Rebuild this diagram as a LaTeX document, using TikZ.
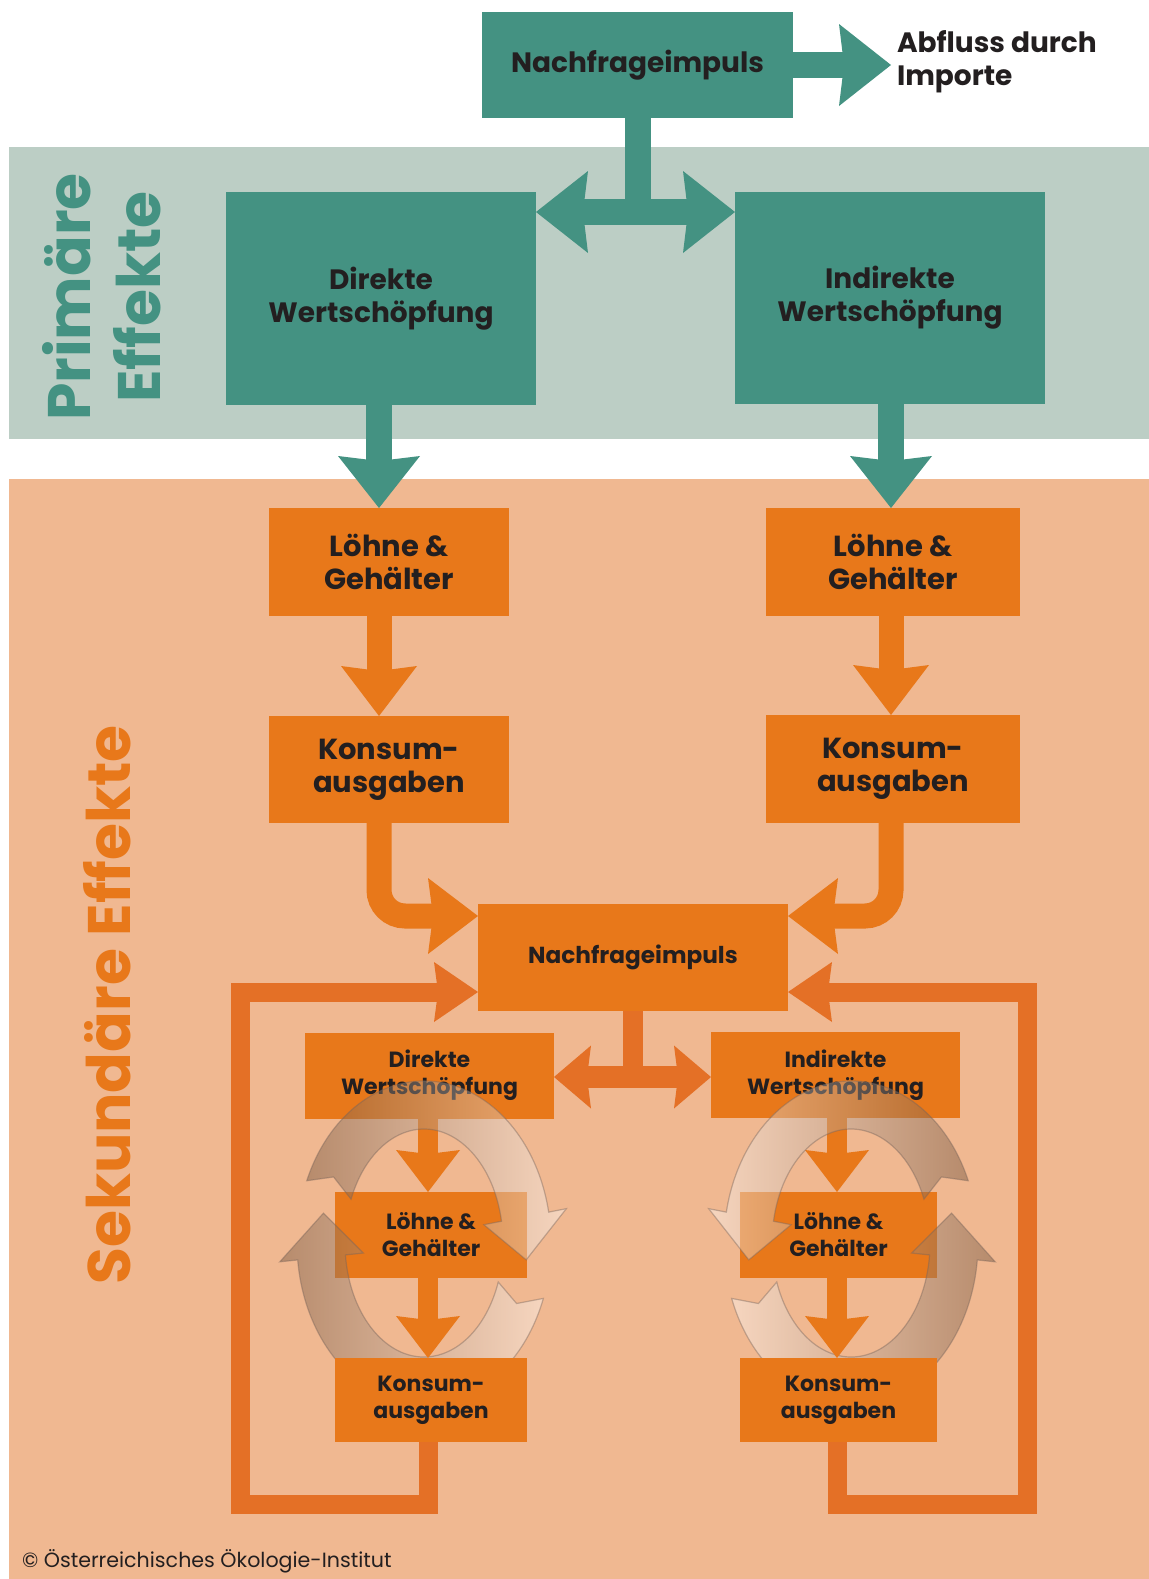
\documentclass[tikz,border=0pt]{standalone}
\usepackage{fontspec}
\setmainfont{Poppins}
\usetikzlibrary{arrows.meta,calc}
\definecolor{tealM}{RGB}{68,146,130}
\definecolor{bandG}{RGB}{188,206,197}
\definecolor{orM}{RGB}{232,120,26}
\definecolor{orD}{RGB}{228,112,38}
\definecolor{peach}{RGB}{240,184,145}
\definecolor{txt}{RGB}{35,31,32}
\definecolor{cycD}{RGB}{105,78,58}
\definecolor{cycO}{RGB}{120,100,90}
\newcommand\cycarr[6]{%
  \path[#6] ($(#1)+(#2:127 and 162)$) arc[start angle=#2, end angle=#3, x radius=127, y radius=162]
    -- ($(#1)+(#3:145 and 180)$) -- ($(#1)+(#4:103 and 138)$) -- ($(#1)+(#3:61 and 96)$)
    -- ($(#1)+(#3:79 and 114)$) arc[start angle=#3, end angle=#2, x radius=79, y radius=114]
    -- ($(#1)+(#5:103 and 138)$) -- cycle;}
\begin{document}
\begin{tikzpicture}[x=0.5pt,y=-0.5pt,
  every node/.style={inner sep=0pt, outer sep=0pt},
  tbox/.style={fill=tealM, text=txt, align=center, font=\bfseries\fontsize{14}{16.5}\selectfont},
  obox/.style={fill=orM, text=txt, align=center, font=\bfseries\fontsize{14.5}{16.5}\selectfont},
  sbox/.style={fill=orM, text=txt, align=center, font=\bfseries\fontsize{11}{13.5}\selectfont},
  tarr/.style={draw=tealM, line width=13pt, -{Stealth[length=26pt,width=41pt,inset=2.5pt,line width=0pt]}},
  tline/.style={draw=tealM, line width=13pt},
  oarr/.style={draw=orM, line width=12.5pt, -{Stealth[length=25pt,width=38pt,inset=2.5pt,line width=0pt]}},
  larr/.style={draw=orD, line width=9.5pt, -{Stealth[length=22pt,width=30pt,inset=2pt,line width=0pt]}},
  sarr/.style={draw=orM, line width=10pt, -{Stealth[length=21pt,width=32pt,inset=2pt,line width=0pt]}},
  darr/.style={draw=orD, line width=11pt, -{Stealth[length=18.5pt,width=31.5pt,inset=2pt,line width=0pt]}},
  dline/.style={draw=orD, line width=10pt},
  vlab/.style={rotate=90, font=\bfseries\fontsize{30}{30}\selectfont},
  cycL/.style={left color=cycD, right color=white, opacity=0.42, draw=cycO, line width=0.6pt},
  cycR/.style={left color=white, right color=cycD, opacity=0.42, draw=cycO, line width=0.6pt}]
\useasboundingbox (0,0) rectangle (1149,1579);
\fill[white] (0,0) rectangle (1149,1579);
\fill[bandG] (9,147) rectangle (1149,439);
\fill[peach] (9,479) rectangle (1149,1579);

% side labels
\node[vlab, text=tealM] (pr1) at (67,297) {Primäre};
\node[vlab, text=tealM] (pr2) at (137,297) {Effekte};
\node[vlab, text=orM] (sek) at (107,1005) {Sekundäre Effekte};

% primary boxes
\node[tbox, minimum width=155.5pt, minimum height=53pt] (N1) at (637.5,65) {Nachfrageimpuls};
\node[tbox, minimum width=155pt, minimum height=106.5pt] (D1) at (381,298.5) {Direkte\\Wertschöpfung};
\node[tbox, minimum width=155pt, minimum height=106pt] (I1) at (890,298) {Indirekte\\Wertschöpfung};
\node[anchor=west, align=left, text=txt, font=\bfseries\fontsize{14}{16.5}\selectfont] (abf) at (897,62) {Abfluss durch\\Importe};
\coordinate (imp) at (891,65);

% secondary boxes
\node[obox, minimum width=120pt, minimum height=54pt] (L1) at (389,562) {Löhne \&\\Gehälter};
\node[obox, minimum width=127pt, minimum height=54pt] (L1R) at (893,562) {Löhne \&\\Gehälter};
\node[obox, minimum width=120pt, minimum height=53.5pt] (K1) at (389,769.5) {Konsum-\\ausgaben};
\node[obox, minimum width=127pt, minimum height=54pt] (K1R) at (893,769) {Konsum-\\ausgaben};
\node[obox, minimum width=155pt, minimum height=53.5pt, font=\bfseries\fontsize{11.6}{14}\selectfont] (N2) at (633,957.5) {Nachfrageimpuls};
\node[sbox, minimum width=124.5pt, minimum height=43pt] (D2L) at (429.5,1075.5) {Direkte\\Wertschöpfung};
\node[sbox, minimum width=124.5pt, minimum height=43pt] (D2R) at (835.5,1075) {Indirekte\\Wertschöpfung};
\node[sbox, minimum width=96pt, minimum height=43pt] (L2L) at (431,1235) {Löhne \&\\Gehälter};
\node[sbox, minimum width=98.5pt, minimum height=43pt] (L2R) at (838.5,1235) {Löhne \&\\Gehälter};

% column coordinates
\coordinate (cl) at (379,0);
\coordinate (cr) at (891,0);
\coordinate (sl) at (428,0);
\coordinate (sr) at (837,0);
\coordinate (j1) at (637.5,212);
\coordinate (j2) at (633,1077);
\coordinate (lb) at (240,1504);
\coordinate (rb) at (1027,1504);

% teal connectors
\draw[tarr] (N1.east) -- (imp);
\draw[tline] (N1.south) -- (j1);
\draw[tarr] (j1) -- (D1.east |- j1);
\draw[tarr] (j1) -- (I1.west |- j1);
\draw[tarr] (D1.south -| cl) -- (L1.north -| cl);
\draw[tarr] (I1.south -| cr) -- (L1R.north -| cr);

% orange connectors
\draw[oarr] (L1.south -| cl) -- (K1.north -| cl);
\draw[oarr] (L1R.south -| cr) -- (K1R.north -| cr);
\draw[oarr, rounded corners=13pt] (K1.south -| cl) |- ($(N2.west)+(0,-41.5)$);
\draw[oarr, rounded corners=13pt] (K1R.south -| cr) |- ($(N2.east)+(0,-41.5)$);
\draw[dline] (N2.south) -- (j2);
\draw[darr] (j2) -- (D2L.east |- j2);
\draw[darr] (j2) -- (D2R.west |- j2);
\draw[sarr] (D2L.south -| sl) -- (L2L.north -| sl);
\draw[sarr] (D2R.south -| sr) -- (L2R.north -| sr);

% cycle overlays
\coordinate (cL) at (424,1243);
\coordinate (cR) at (851,1243);
\cycarr{cL}{202.6}{349}{367}{208.6}{cycL}
\cycarr{cL}{20}{174}{192.5}{26}{cycL}
\cycarr{cR}{-22.6}{-169}{-187}{-28.6}{cycR}
\cycarr{cR}{160}{6}{-12.5}{154}{cycR}

% lowest boxes and their connectors
\node[sbox, minimum width=96pt, minimum height=42pt] (K2L) at (431,1400) {Konsum-\\ausgaben};
\node[sbox, minimum width=98.5pt, minimum height=42pt] (K2R) at (838.5,1400) {Konsum-\\ausgaben};
\draw[sarr] (L2L.south -| sl) -- (K2L.north -| sl);
\draw[sarr] (L2R.south -| sr) -- (K2R.north -| sr);
\draw[larr] (K2L.south -| sl) |- (lb) |- ($(N2.west)+(0,34.5)$);
\draw[larr] (K2R.south -| sr) |- (rb) |- ($(N2.east)+(0,34.5)$);

% copyright
\node[anchor=west, text=txt, font=\fontsize{10.3}{12}\selectfont] (cpy) at (22,1561) {© Österreichisches Ökologie-Institut};
\end{tikzpicture}
\end{document}
